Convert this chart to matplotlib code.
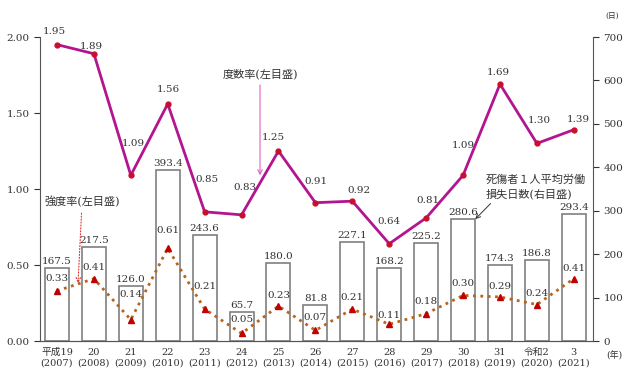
import matplotlib
matplotlib.use("Agg")
import matplotlib.pyplot as plt

plt.rcParams['font.family'] = ['DejaVu Serif', 'Noto Sans CJK JP']

years = ["平成19\n(2007)", "20\n(2008)", "21\n(2009)", "22\n(2010)", "23\n(2011)",
         "24\n(2012)", "25\n(2013)", "26\n(2014)", "27\n(2015)", "28\n(2016)",
         "29\n(2017)", "30\n(2018)", "31\n(2019)", "令和2\n(2020)", "3\n(2021)"]
frequency = [1.95, 1.89, 1.09, 1.56, 0.85, 0.83, 1.25, 0.91, 0.92, 0.64,
             0.81, 1.09, 1.69, 1.30, 1.39]
severity = [0.33, 0.41, 0.14, 0.61, 0.21, 0.05, 0.23, 0.07, 0.21, 0.11,
            0.18, 0.30, 0.29, 0.24, 0.41]
lost_days = [167.5, 217.5, 126.0, 393.4, 243.6, 65.7, 180.0, 81.8, 227.1, 168.2,
             225.2, 280.6, 174.3, 186.8, 293.4]

# label offsets in pixels (dx, dy)
freq_off = [(-3, 13), (-3, 7), (3, 32), (1, 14), (2, 32), (3, 27), (-5, 14), (1, 21),
            (7, 11), (0, 22), (2, 17), (0, 30), (-2, 12), (2, 23), (5, 10)]
sev_off = [12, 11, 25, 18, 23, 14, 11, 13, 12, 9, 12, 12, 10, 11, 10]

txt = '#333333'
x = list(range(len(years)))

fig = plt.figure(figsize=(6.4, 3.8), dpi=100)
ax = fig.add_axes([0.0625, 0.1026, 0.8641, 0.8])
ax2 = ax.twinx()
ax.set_zorder(ax2.get_zorder() + 1)
ax.patch.set_visible(False)

# bars (right axis)
ax2.bar(x, lost_days, width=0.65, facecolor='white', edgecolor='#7f7f7f', linewidth=1.2)
for i, v in enumerate(lost_days):
    ax2.annotate(f'{v:.1f}', (i, v), xytext=(0, 2), textcoords='offset pixels',
                 ha='center', va='bottom', fontsize=7.5, color=txt)

# frequency rate
ax.plot(x, frequency, color='#B3148F', linewidth=2, marker='o', markersize=3.5,
        markerfacecolor='#C8102E', markeredgecolor='#C8102E')
for i, v in enumerate(frequency):
    dx, dy = freq_off[i]
    ax.annotate(f'{v:.2f}', (i, v), xytext=(dx, dy), textcoords='offset pixels',
                ha='center', va='center', fontsize=7.5, color=txt)

# severity rate
ax.plot(x, severity, color='#B5651D', linewidth=2, linestyle=':', marker='^',
        markersize=5, markerfacecolor='#C00000', markeredgecolor='#C00000')
for i, v in enumerate(severity):
    ax.annotate(f'{v:.2f}', (i, v), xytext=(0, sev_off[i]), textcoords='offset pixels',
                ha='center', va='center', fontsize=7.5, color=txt)

ax.set_xlim(-0.46, 14.52)
ax.set_ylim(0, 2.0)
ax2.set_ylim(0, 700)
ax.set_yticks([0, 0.5, 1.0, 1.5, 2.0])
ax.set_yticklabels(['0.00', '0.50', '1.00', '1.50', '2.00'])
ax2.set_yticks(range(0, 701, 100))
ax.set_xticks(x)
ax.set_xticklabels(years)
ax.tick_params(axis='x', length=0, labelsize=7, colors=txt, pad=5)
ax.tick_params(axis='y', length=4, labelsize=7.5, colors=txt, direction='out')
ax2.tick_params(axis='y', length=4, labelsize=7.5, colors=txt, direction='out')

for a in (ax, ax2):
    a.spines['top'].set_visible(False)
    for s in ('left', 'right', 'bottom'):
        a.spines[s].set_color('#555555')
ax.spines['right'].set_visible(False)
ax2.spines['left'].set_visible(False)

# annotations
ax.annotate('度数率(左目盛)', xy=(5.5, 1.09), xytext=(5.5, 1.757), ha='center', va='center',
            fontsize=8, color=txt,
            arrowprops=dict(arrowstyle='->', color='#E060C0', lw=0.8, shrinkB=0))
ax.annotate('強度率(左目盛)', xy=(0.57, 0.38), xytext=(0.68, 0.915), ha='center', va='center',
            fontsize=8, color=txt,
            arrowprops=dict(arrowstyle='->', color='#E03030', lw=0.8, linestyle=':',
                            shrinkB=0))
ax2.annotate('死傷者１人平均労働\n損失日数(右目盛)', xy=(11.33, 280.6), xytext=(11.6, 356),
             ha='left', va='center', fontsize=8, color=txt, linespacing=1.4,
             arrowprops=dict(arrowstyle='->', color='#333333', lw=0.7, shrinkB=0,
                             relpos=(0.1, 0.0)))

fig.text(0.956, 0.955, '(日)', fontsize=5.5, color=txt, ha='center', va='center')
fig.text(0.96, 0.063, '(年)', fontsize=6.5, color=txt, ha='center', va='center')

fig.savefig('out.png', dpi=100)
